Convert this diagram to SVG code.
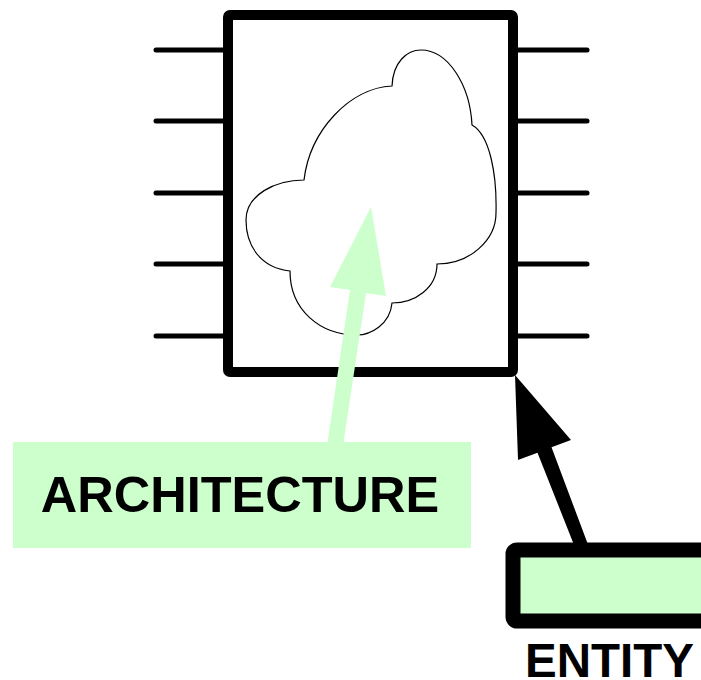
<svg xmlns="http://www.w3.org/2000/svg" width="701" height="680" viewBox="0 0 701 680">
  <style>
    .pin { stroke: #000; stroke-width: 5; stroke-linecap: round; fill: none; }
    .body { stroke: #000; stroke-width: 10; stroke-linejoin: round; fill: #fff; }
    .cloud { stroke: #000; stroke-width: 1.2; fill: #fff; }
    .label { font-family: "Liberation Sans", Arial, sans-serif; font-weight: bold; fill: #000; }
    .green { fill: #CCFFCC; }
  </style>

  <!-- component symbol: box with pins -->
  <g id="component">
    <g class="pins">
      <line class="pin" x1="156" y1="50" x2="228" y2="50"/>
      <line class="pin" x1="156" y1="121" x2="228" y2="121"/>
      <line class="pin" x1="156" y1="193" x2="228" y2="193"/>
      <line class="pin" x1="156" y1="264" x2="228" y2="264"/>
      <line class="pin" x1="156" y1="336" x2="228" y2="336"/>
      <line class="pin" x1="513" y1="50" x2="587" y2="50"/>
      <line class="pin" x1="513" y1="121" x2="587" y2="121"/>
      <line class="pin" x1="513" y1="193" x2="587" y2="193"/>
      <line class="pin" x1="513" y1="264" x2="587" y2="264"/>
      <line class="pin" x1="513" y1="336" x2="587" y2="336"/>
    </g>
    <rect class="body" x="228" y="15" width="285" height="357" rx="2"/>
  </g>

  <!-- internal behaviour cloud -->
  <g id="cloud">
    <path class="cloud" d="M 392,86 C 393,62 407,50 421,50 C 448,50 470,85 472,125 C 490,135 497,175 496,213 C 496,240 470,264 437,264 C 437,288 415,303 392,303 C 390,325 370,335 357,335 C 320,335 290,310 290,271 C 260,268 246,245 246,220 C 246,195 275,180 304,180 C 310,130 350,88 392,86 Z"/>
  </g>

  <!-- connectors -->
  <g id="connectors">
    <polygon class="green" points="371,207 386,296 366,293 343,446 327,446 350,290 330,287"/>
    <polygon fill="#000" points="515,375 571,440 551.5,447.3 590.8,552 576.8,552 537.5,452.7 518,460"/>
  </g>

  <!-- architecture label -->
  <g id="architecture">
    <rect class="green" x="13" y="442" width="458" height="106"/>
    <text class="label" x="240" y="512" font-size="50.5" text-anchor="middle">ARCHITECTURE</text>
  </g>

  <!-- entity label -->
  <g id="entity">
    <rect x="513" y="550" width="200" height="71" rx="4" fill="#CCFFCC" stroke="#000" stroke-width="15"/>
    <text class="label" x="525" y="677" font-size="47.5">ENTITY</text>
  </g>
</svg>
